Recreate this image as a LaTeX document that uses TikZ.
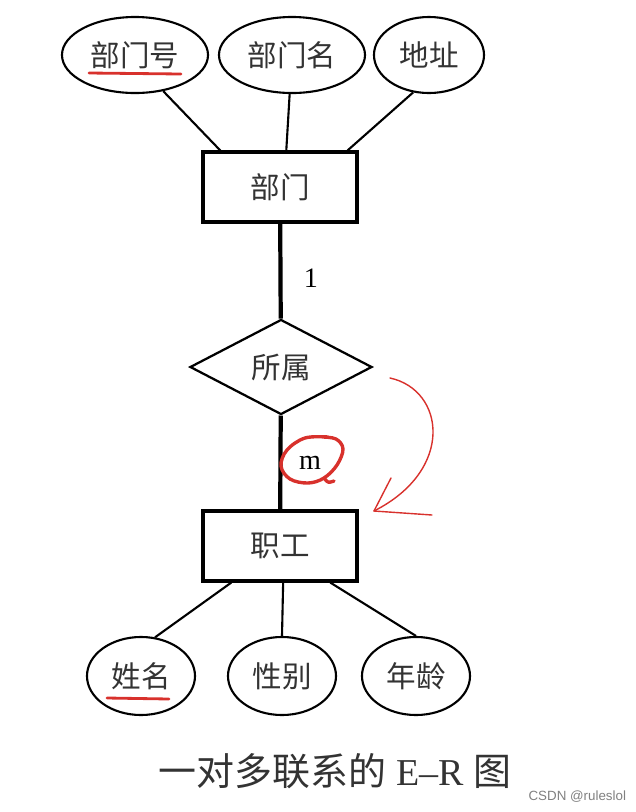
\documentclass[tikz,border=0pt]{standalone}
\usepackage{fontspec}
\setmainfont{Liberation Serif}
\newfontfamily\cjk{Noto Sans CJK SC}
\newfontfamily\wmfont{Liberation Sans}
\usetikzlibrary{shapes.geometric,calc,positioning}
\definecolor{inkgray}{HTML}{333333}
\definecolor{markred}{HTML}{D8312C}

\begin{document}
\begin{tikzpicture}[x=0.025cm, y=-0.025cm,
    attr/.style={draw, ellipse, line width=1.5pt, inner sep=0pt, minimum height=1.9cm, text=inkgray, font=\cjk\fontsize{21}{21}\selectfont},
    entity/.style={draw, rectangle, line width=2.2pt, minimum width=3.85cm, minimum height=1.75cm, text=inkgray, font=\cjk\fontsize{21}{21}\selectfont},
    rel/.style={draw, diamond, line width=1.6pt, inner sep=0pt, minimum width=4.55cm, minimum height=2.375cm, text=inkgray, font=\cjk\fontsize{21}{21}\selectfont},
    card/.style={text=black, font=\fontsize{20}{20}\selectfont},
    link/.style={line width=1.5pt},
    biglink/.style={line width=3pt},
    hand/.style={markred, line cap=round, line join=round}
]
    \useasboundingbox (0,0) rectangle (636,812);

    % entities and relationship
    \node[entity] (dept) at (280,187) {部门};
    \node[rel] (belong) at (281,367) {所属};
    \node[entity] (staff) at (280,546) {职工};

    % attributes
    \node[attr, minimum width=3.65cm] (dno) at (135,55) {部门号};
    \node[attr, minimum width=3.65cm] (dname) at (292,55) {部门名};
    \node[attr, minimum width=2.75cm] (addr) at (429,55) {地址};
    \node[attr, minimum width=2.7cm, minimum height=1.95cm] (sname) at (141,676) {姓名};
    \node[attr, minimum width=2.7cm, minimum height=1.95cm] (sex) at (282,676) {性别};
    \node[attr, minimum width=2.7cm, minimum height=1.95cm] (age) at (416,676) {年龄};

    \draw[link] (dno.-52) -- ($(dept.north west)!0.12!(dept.north east)$);
    \draw[link] (dname) -- ($(dept.north west)!0.54!(dept.north east)$);
    \draw[link] (addr.-113) -- ($(dept.north west)!0.93!(dept.north east)$);
    \draw[link] (sname.70) -- ($(staff.south west)!0.19!(staff.south east)$);
    \draw[link] (sex.north) -- ($(staff.south west)!0.52!(staff.south east)$);
    \draw[link] (age.north) -- ($(staff.south west)!0.82!(staff.south east)$);

    \draw[biglink] (dept) -- (belong);
    \draw[biglink] (belong) -- (staff);
    \node[card] (one) at (311,278) {1};
    \node[card] (many) at (310,463) {m};

    % red hand marks
    \draw[hand, line width=2pt] (89,73) -- (181,74);
    \draw[hand, line width=2pt] (107,698) -- (169,699);
    \draw[hand, line width=2.4pt] plot[smooth, tension=0.6] coordinates {(328,437) (305,438) (287,450) (281,466) (290,479) (308,483) (324,478) (337,465) (343,449) (336,439) (322,437)};
    \draw[hand, line width=2.4pt] (324,478) .. controls (328,483) .. (334,481);
    \coordinate (swoopstart) at (390,378);
    \coordinate (swooptip) at (374,511);
    \draw[hand, line width=1pt] (swoopstart) .. controls (445,390) and (455,470) .. (swooptip);
    \draw[hand, line width=1pt] (391,478) -- (swooptip) -- (432,515);

    % caption
    \node[text=inkgray, font=\fontsize{27}{27}\selectfont] (caption) at (335,771) {{\cjk 一对多联系的} E--R {\cjk 图}};
    \node[anchor=east, text=black!50, font=\wmfont\fontsize{9.5}{10}\selectfont] (mark) at (631,797) {CSDN @ruleslol};
\end{tikzpicture}
\end{document}
